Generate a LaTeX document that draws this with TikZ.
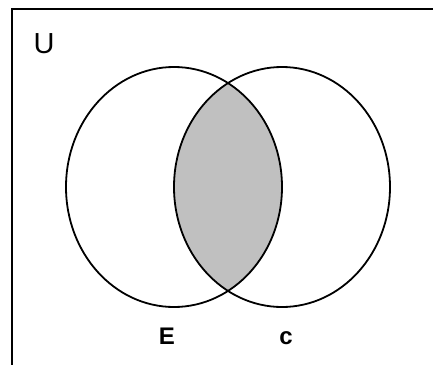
\documentclass[tikz,border=0pt]{standalone}
\usepackage{fontspec}
\setmainfont{Liberation Sans}
\usetikzlibrary{shapes.geometric}
\definecolor{overlapgray}{RGB}{192,192,192}
\tikzset{
  universe/.style = {draw=black, line width=2.4pt},
  setring/.style  = {ellipse, draw=black, line width=1.8pt, inner sep=0pt,
                     minimum width=216pt, minimum height=240pt},
  setlabel/.style = {font=\fontsize{24}{24}\selectfont\bfseries, inner sep=0pt},
  unilabel/.style = {font=\fontsize{29}{29}\selectfont, inner sep=0pt},
}
\begin{document}
\begin{tikzpicture}[x=1pt,y=-1pt]

      \useasboundingbox (0,0) rectangle (433,364);
      \clip (0,0) rectangle (433,364);
      \fill[white] (0,0) rectangle (433,364);

      % universe box, its right and bottom sides run off the picture
      \draw[universe] (12,9) rectangle (445,380);
      \node[unilabel] (uni) at (44,44) {U};

      % shaded overlap
      \begin{scope}
        \clip (174,187) ellipse [x radius=108, y radius=120];
        \fill[overlapgray] (282,187) ellipse [x radius=108, y radius=120];
      \end{scope}

      \node[setring] (setE) at (174,187) {};
      \node[setring] (setC) at (282,187) {};

      \node[setlabel] (labE) at (167,336) {E};
      \node[setlabel, anchor=base] (labC) at (286,344) {c};

    \end{tikzpicture}
\end{document}
